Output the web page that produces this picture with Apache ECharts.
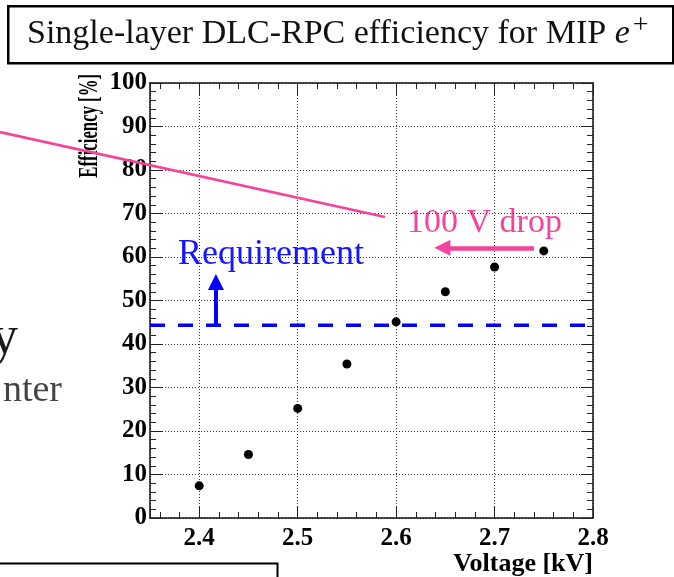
<!DOCTYPE html>
<html>
<head>
<meta charset="utf-8">
<script src="https://cdn.jsdelivr.net/npm/echarts@6/dist/echarts.min.js"></script>
<style>
  html, body { margin: 0; padding: 0; background: #ffffff; }
  #chart { width: 674px; height: 577px; }
</style>
</head>
<body>
<div id="chart"></div>
<script>
// Single-layer DLC-RPC efficiency versus applied voltage
const voltage = [2.40, 2.45, 2.50, 2.55, 2.60, 2.65, 2.70, 2.75];     // kV
const efficiency = [7.4, 14.6, 25.2, 35.4, 45.1, 52.0, 57.7, 61.4];  // %
const requirement = 44.3;                                            // %
const xRange = [2.35, 2.8];
const yTicks = [0, 10, 20, 30, 40, 50, 60, 70, 80, 90, 100];
const requirementArrow = [2.417, 44.3, 54.25];   // x, from, to
const dropArrow = [62.1, 2.74, 2.647];          // y, from, to

const serif = '"Liberation Serif", "Times New Roman", serif';
const pink = '#f5429b';
const blue = '#0000ff';

const chart = echarts.init(document.getElementById('chart'), null, { renderer: 'canvas' });

const axisCommon = {
  type: 'value',
  axisLine: { show: true, onZero: false, lineStyle: { color: '#111', width: 1.5 } },
  axisTick: { show: true, inside: true, length: 12, lineStyle: { color: '#222', width: 1 } },
  minorTick: { show: true, splitNumber: 5, length: 6, lineStyle: { color: '#222', width: 1 } },
  minorSplitLine: { show: false }
};

const option = {
  animation: false,
  backgroundColor: '#ffffff',
  grid: { left: 150, right: 81, top: 83, bottom: 59, containLabel: false, outerBoundsMode: 'none' },
  xAxis: [
    Object.assign({}, axisCommon, {
      position: 'bottom',
      min: xRange[0], max: xRange[1],
      axisLabel: {
        show: true, margin: 8, showMinLabel: false,
        fontFamily: serif, fontWeight: 'bold', fontSize: 25, color: '#000',
        formatter: v => v.toFixed(1)
      },
      splitLine: { show: true, lineStyle: { color: '#333', width: 1, type: [1, 2] } }
    }),
    Object.assign({}, axisCommon, {
      position: 'top',
      min: xRange[0], max: xRange[1],
      axisLabel: { show: false },
      splitLine: { show: false }
    })
  ],
  yAxis: [
    Object.assign({}, axisCommon, {
      position: 'left',
      min: yTicks[0], max: yTicks[yTicks.length - 1], interval: yTicks[1] - yTicks[0],
      axisLabel: {
        show: true, margin: 3,
        fontFamily: serif, fontWeight: 'bold', fontSize: 25, color: '#000'
      },
      splitLine: { show: true, lineStyle: { color: '#333', width: 1, type: [1, 2] } }
    }),
    Object.assign({}, axisCommon, {
      position: 'right',
      min: yTicks[0], max: yTicks[yTicks.length - 1], interval: yTicks[1] - yTicks[0],
      axisLabel: { show: false },
      splitLine: { show: false }
    })
  ],
  series: [
    {
      name: 'Requirement',
      type: 'line',
      xAxisIndex: 0, yAxisIndex: 0,
      data: [[xRange[0], requirement], [xRange[1], requirement]],
      symbol: 'none',
      lineStyle: { color: blue, width: 3.5, type: [15, 13] },
      silent: true,
      z: 3,
      markLine: {
        silent: true,
        symbol: ['none', 'triangle'],
        symbolSize: [16, 16],
        label: { show: false },
        lineStyle: { color: blue, width: 4, type: 'solid' },
        data: [[
          { coord: [requirementArrow[0], requirementArrow[1]] },
          { coord: [requirementArrow[0], requirementArrow[2]] }
        ]]
      }
    },
    {
      name: 'Drop',
      type: 'line',
      xAxisIndex: 0, yAxisIndex: 0,
      data: [],
      markLine: {
        silent: true,
        symbol: ['none', 'triangle'],
        symbolSize: [16, 16],
        label: { show: false },
        lineStyle: { color: pink, width: 4.5, type: 'solid' },
        data: [[
          { coord: [dropArrow[1], dropArrow[0]] },
          { coord: [dropArrow[2], dropArrow[0]] }
        ]]
      }
    },
    {
      name: 'Efficiency',
      type: 'scatter',
      xAxisIndex: 0, yAxisIndex: 0,
      data: voltage.map((v, i) => [v, efficiency[i]]),
      symbol: 'circle',
      symbolSize: 9,
      itemStyle: { color: '#000', opacity: 1 },
      z: 5
    }
  ],
  graphic: [
    // title box
    {
      type: 'rect', left: 7, top: 5,
      shape: { width: 665, height: 57 },
      style: { fill: '#fff', stroke: '#000', lineWidth: 2.5 }
    },
    {
      type: 'text', x: 27, y: 34,
      style: {
        text: '{n|Single-layer DLC-RPC efficiency for MIP }{i|e}{s|+}',
        verticalAlign: 'middle',
        fill: '#111',
        rich: {
          n: { fontFamily: serif, fontSize: 34, fill: '#111' },
          i: { fontFamily: serif, fontSize: 34, fontStyle: 'italic', fill: '#111' },
          s: { fontFamily: serif, fontSize: 28, fill: '#111', padding: [0, 0, 16, 3] }
        }
      }
    },
    // pointer line from the slide
    {
      type: 'line',
      shape: { x1: 0, y1: 132, x2: 385, y2: 217 },
      style: { stroke: pink, lineWidth: 2.8 },
      z: 10
    },
    // axis titles
    {
      type: 'text', x: 90, y: 74, rotation: Math.PI / 2, scaleX: 0.62,
      style: {
        text: 'Efficiency [%]', align: 'right', verticalAlign: 'middle',
        font: 'bold 27px ' + serif, fill: '#000'
      }
    },
    {
      type: 'text', x: 593, y: 577,
      style: {
        text: 'Voltage [kV]', align: 'right', verticalAlign: 'bottom',
        font: 'bold 26px ' + serif, fill: '#000'
      }
    },
    // annotations
    {
      type: 'text', x: 178, y: 273,
      style: {
        text: 'Requirement', align: 'left', verticalAlign: 'bottom',
        font: '36px ' + serif, fill: '#1515ff'
      }
    },
    {
      type: 'text', x: 407, y: 240,
      style: {
        text: '100 V drop', align: 'left', verticalAlign: 'bottom',
        font: '34px ' + serif, fill: pink
      }
    },
    // slide text fragments on the left
    {
      type: 'text', x: 18, y: 366,
      style: { text: 'y', align: 'right', verticalAlign: 'bottom', font: '54px ' + serif, fill: '#1a1a1a' }
    },
    {
      type: 'text', x: 62, y: 410,
      style: { text: 'nter', align: 'right', verticalAlign: 'bottom', font: '38px ' + serif, fill: '#444' }
    },
    // box at the bottom of the slide
    {
      type: 'rect', left: -5, top: 561,
      shape: { width: 280, height: 40 },
      style: { fill: 'none', stroke: '#000', lineWidth: 2 }
    }
  ]
};

chart.setOption(option);
</script>
</body>
</html>
